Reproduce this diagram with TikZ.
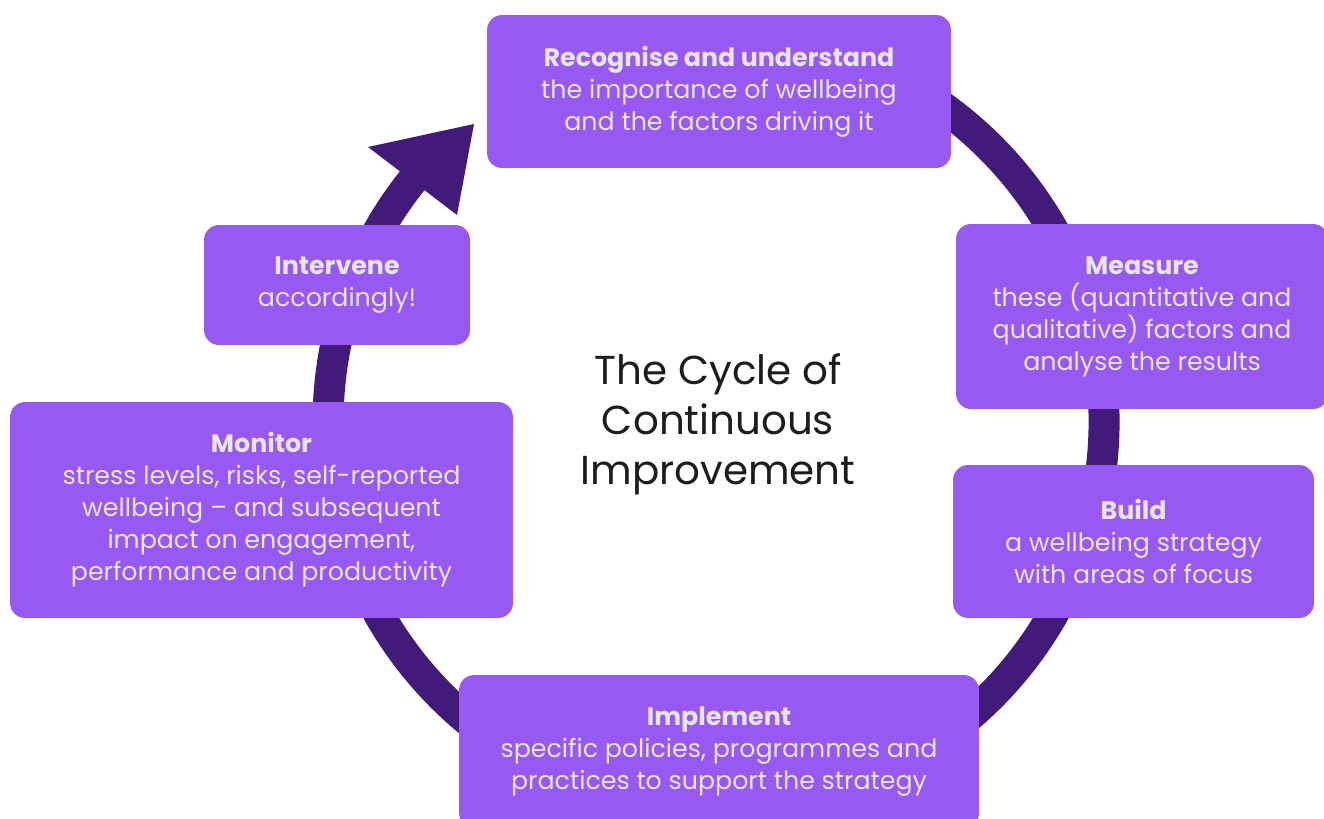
\documentclass[tikz,border=0pt]{standalone}
\usepackage{fontspec}
\setmainfont{Poppins}
\definecolor{stagefill}{HTML}{9759F2}
\definecolor{ringcol}{HTML}{421A7A}
\definecolor{stagetext}{HTML}{E8E6EC}
\definecolor{titletext}{HTML}{1C1C1C}
\tikzset{
	stage/.style={fill=stagefill, text=stagetext, rounded corners=0.3cm, align=center, inner sep=0pt, font=\fontsize{14.4}{18.2}\selectfont},
}

\begin{document}
\begin{tikzpicture}[x=0.02cm, y=-0.02cm]
	% Frame (pixel grid, y down):
	\useasboundingbox (0,0) rectangle (1324,818);
	\clip (0,0) rectangle (1324,818);
	% Ring and arrow head:
	\coordinate (C) at (716,422);
	\draw[ringcol, line width=0.62cm] (C) ++(242:388) arc[start angle=242, end angle=580, radius=388];
	\fill[ringcol] (474,124) -- (368,147) -- (457,215) -- cycle;
	% Stages:
	\node[stage, minimum width=9.28cm, minimum height=3.06cm] (recognise) at (719,91.5){{\bfseries Recognise and understand}\\the importance of wellbeing\\and the factors driving it};
	\node[stage, minimum width=7.44cm, minimum height=3.7cm] (measure) at (1142,316.5){{\bfseries Measure}\\these (quantitative and\\qualitative) factors and\\analyse the results};
	\node[stage, minimum width=7.22cm, minimum height=3.06cm] (build) at (1133.5,541.5){{\bfseries Build}\\a wellbeing strategy\\with areas of focus};
	\node[stage, minimum width=10.4cm, minimum height=3.06cm] (implement) at (719,751.5){{\bfseries Implement}\\specific policies, programmes and\\practices to support the strategy};
	\node[stage, minimum width=10.06cm, minimum height=4.32cm] (monitor) at (261.5,510){{\bfseries Monitor}\\stress levels, risks, self-reported\\wellbeing -- and subsequent\\impact on engagement,\\performance and productivity};
	\node[stage, minimum width=5.32cm, minimum height=2.4cm] (intervene) at (337,285){{\bfseries Intervene}\\accordingly!};
	% Title:
	\node[font=\fontsize{23}{28.5}\selectfont, text=titletext, align=center] (title) at (718,424){The Cycle of\\Continuous\\Improvement};
\end{tikzpicture}
\end{document}
